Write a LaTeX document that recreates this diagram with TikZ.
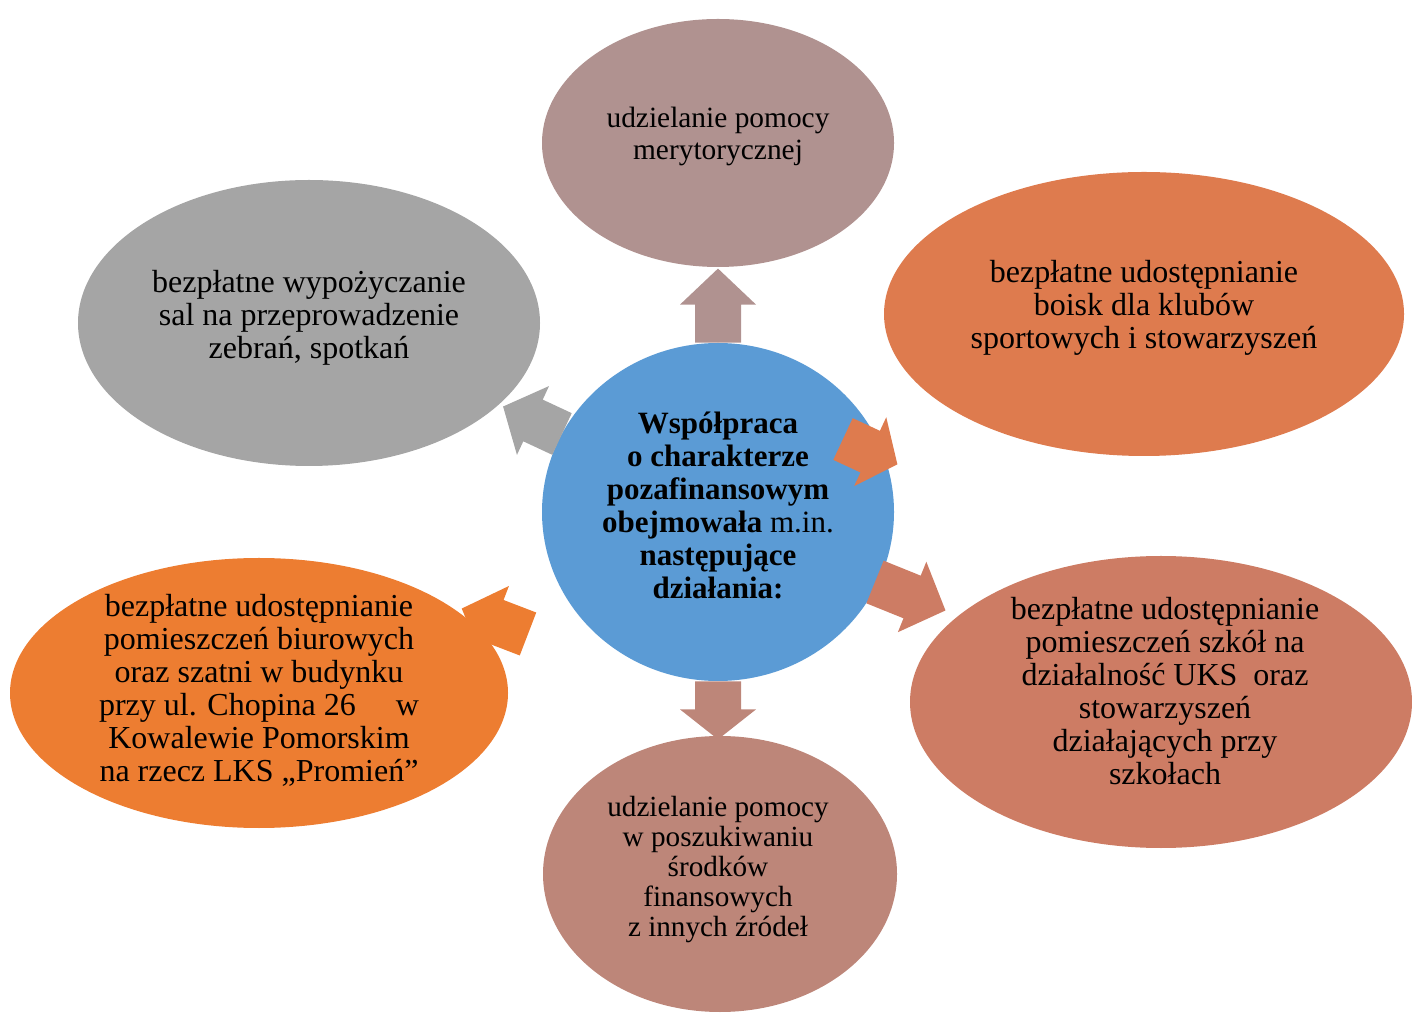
\documentclass[tikz,border=0pt]{standalone}
\usepackage{fontspec}
\setmainfont{Liberation Serif}
\usetikzlibrary{shapes.geometric,calc}

\definecolor{hubblue}{HTML}{5B9BD5}
\definecolor{mauve}{HTML}{B09290}
\definecolor{grayish}{HTML}{A5A5A5}
\definecolor{rustorange}{HTML}{DE7B4E}
\definecolor{terracotta}{HTML}{CD7C64}
\definecolor{rosebrown}{HTML}{BD8679}
\definecolor{brightorange}{HTML}{ED7D31}

\tikzset{
  bubble/.style={ellipse, inner sep=0pt},
  txt/.style={align=center, inner sep=0pt, font=\fontsize{16}{16.5}\selectfont},
  pics/blockarrow/.style 2 args={code={
    \fill (0,-23) -- (#1,-23) -- (#1,-38) -- ++(#2,38) -- (#1,38) -- (#1,23) -- (0,23) -- cycle;
  }}
}

\begin{document}
\begin{tikzpicture}[x=0.5pt,y=0.5pt]
\useasboundingbox (0,0) rectangle (1412,1012);

% centre
\node[bubble, fill=hubblue, minimum width=176pt, minimum height=169pt] (hub) at (718,500) {};

% arrows out of the centre
\pic[fill=mauve, rotate=90] at (hub.north) {blockarrow={38}{36}};
\pic[fill=rosebrown, rotate=-90] at (hub.south) {blockarrow={28}{30}};
\pic[fill=grayish, rotate=155] at ($(hub)+(-156,78)$) {blockarrow={32}{33}};
\pic[fill=rustorange, rotate=-25] at ($(hub)+(125,73)$) {blockarrow={30}{30}};
\pic[fill=terracotta, rotate=-22] at ($(hub)+(157,-70)$) {blockarrow={40}{36}};
\pic[fill=brightorange, rotate=159] at ($(hub)+(-190,-122)$) {blockarrow={35}{36}};

% outer ellipses
\node[bubble, fill=mauve, minimum width=176pt, minimum height=124pt] (meryt) at (718,869) {};
\node[bubble, fill=grayish, minimum width=231pt, minimum height=143pt] (sale) at (309,689) {};
\node[bubble, fill=rustorange, minimum width=260pt, minimum height=142pt] (boiska) at (1144,698) {};
\node[bubble, fill=terracotta, minimum width=251pt, minimum height=146pt] (szkoly) at (1161,310) {};
\node[bubble, fill=rosebrown, minimum width=177pt, minimum height=138pt] (srodki) at (720,138) {};
\node[bubble, fill=brightorange, minimum width=249pt, minimum height=135pt] (biura) at (259,319) {};

% texts
\node[txt, font=\fontsize{15.5}{16.5}\selectfont] (hubText) at ($(hub)+(0,7)$) {\textbf{Współpraca}\\ \textbf{o charakterze}\\ \textbf{pozafinansowym}\\ \textbf{obejmowała} m.in.\\ \textbf{następujące}\\ \textbf{działania:}};
\node[txt, font=\fontsize{14.7}{16}\selectfont] (merytText) at ($(meryt)+(0,7)$) {udzielanie pomocy\\ merytorycznej};
\node[txt] (saleText) at ($(sale)+(0,5)$) {bezpłatne wypożyczanie\\ sal na przeprowadzenie\\ zebrań, spotkań};
\node[txt] (boiskaText) at ($(boiska)+(0,6)$) {bezpłatne udostępnianie\\ boisk dla klubów\\ sportowych i stowarzyszeń};
\node[txt] (szkolyText) at ($(szkoly)+(4,11)$) {bezpłatne udostępnianie\\ pomieszczeń szkół na\\ działalność UKS\ \ oraz\\ stowarzyszeń\\ działających przy\\ szkołach};
\node[txt, font=\fontsize{14.6}{15}\selectfont] (srodkiText) at ($(srodki)+(-2,4)$) {udzielanie pomocy\\ w poszukiwaniu\\ środków\\ finansowych\\ z innych źródeł};
\node[txt] (biuraText) at ($(biura)+(0,3)$) {bezpłatne udostępnianie\\ pomieszczeń biurowych\\ oraz szatni w budynku\\ przy ul. Chopina 26\ \ \ \ \ w\\ Kowalewie Pomorskim\\ na rzecz LKS „Promień”};
\end{tikzpicture}
\end{document}
